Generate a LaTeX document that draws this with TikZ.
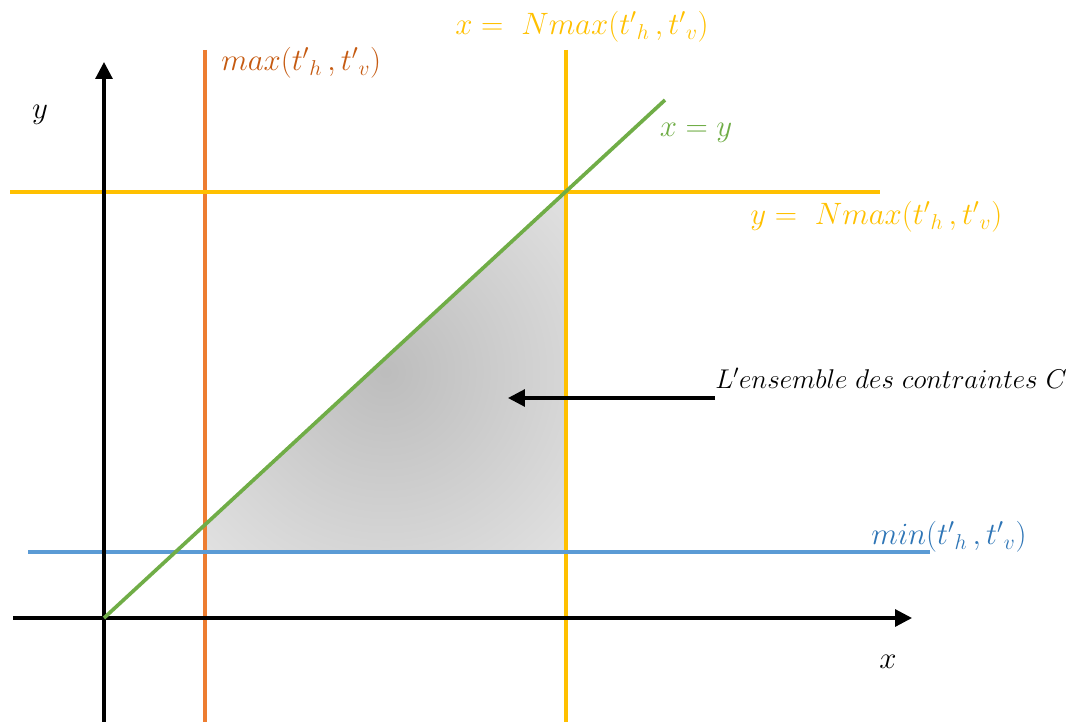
\documentclass[tikz,border=0pt]{standalone}
\usepackage{amssymb}
\usepackage{amsmath}
\usepackage{tikz}
\usetikzlibrary{arrows.meta}
\definecolor{orgline}{HTML}{ED7D31}
\definecolor{orgtext}{HTML}{C55A11}
\definecolor{yel}{HTML}{FFC000}
\definecolor{blueline}{HTML}{5B9BD5}
\definecolor{bluetext}{HTML}{2E75B6}
\definecolor{grn}{HTML}{70AD47}
\pgfdeclareradialshading{zone}{\pgfpoint{0bp}{0bp}}{color(0bp)=(gray!52); color(50bp)=(gray!12)}

\begin{document}
\begin{tikzpicture}[x=0.025cm,y=-0.025cm]
			\tikzstyle{lbl}=[font=\fontsize{20.74}{25}\selectfont,inner sep=0pt,scale=1.06,transform shape]
			\tikzstyle{ln}=[line width=2.6pt]
			\tikzstyle{ax}=[line width=2.2pt,-{Triangle[length=12pt,width=12pt]}]
				\useasboundingbox (0,0) rectangle (1071,722);
				% axes and line ends
				\coordinate (O) at (104,618);
				\coordinate (ybot) at (104,722);
				\coordinate (ytop) at (104,62);
				\coordinate (xleft) at (13,618);
				\coordinate (xright) at (912,618);
				\coordinate (otop) at (205,50);
				\coordinate (obot) at (205,722);
				\coordinate (vtop) at (566,50);
				\coordinate (vbot) at (566,722);
				\coordinate (hleft) at (10,192);
				\coordinate (hright) at (880,192);
				\coordinate (bleft) at (28,552);
				\coordinate (bright) at (930,552);
				\coordinate (gend) at (665,100);
				\coordinate (c1) at (205,525);
				\coordinate (c2) at (566,192);
				\coordinate (c3) at (566,552);
				\coordinate (c4) at (205,552);
				\coordinate (tail) at (715,398);
				\coordinate (head) at (508,398);
				% region C
				\shade [shading=zone] (c1) -- (c2) -- (c3) -- (c4) -- cycle;
				\draw [ln,orgline] (otop) to (obot);
				\draw [ln,yel] (vtop) to (vbot);
				\draw [ln,yel] (hleft) to (hright);
				\draw [ln,blueline] (bleft) to (bright);
				\draw [ax] (ybot) to (ytop);
				\draw [ax] (xleft) to (xright);
				\draw [ln,grn] (O) to (gend);
				\draw [ax] (tail) to (head);
				% labels
				\node [lbl] (ylab) at (40,115) {$y$};
				\node [lbl] (xlab) at (888,662) {$x$};
				\node [lbl,orgtext,anchor=west] (maxlab) at (221,63) {$max({t'}_h\,,{t'}_v)$};
				\node [lbl,yel] (xnlab) at (582,27) {$x =\ Nmax({t'}_h\,,{t'}_v)$};
				\node [lbl,grn] (eqlab) at (696,133) {$x = y$};
				\node [lbl,yel,anchor=west] (ynlab) at (750,217) {$y =\ Nmax({t'}_h\,,{t'}_v)$};
				\node [lbl,bluetext,anchor=west] (minlab) at (871,537) {$min({t'}_h\,,{t'}_v)$};
				\node [lbl,scale=0.877,anchor=west] (clab) at (715,378) {$L'ensemble\ des\ contraintes\ C$};
	\end{tikzpicture}
\end{document}
